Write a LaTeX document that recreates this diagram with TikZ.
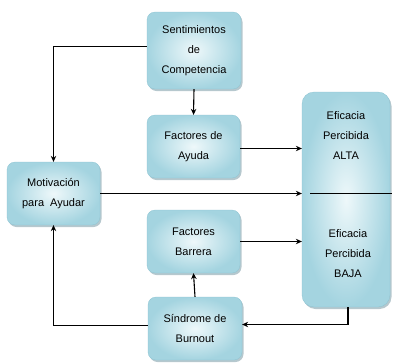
\documentclass[tikz,border=0pt]{standalone}
\usepackage{fontspec}
\setmainfont{Liberation Sans}
\usetikzlibrary{arrows.meta,shadows}
\definecolor{boxlight}{HTML}{EEF8FA}
\definecolor{boxdark}{HTML}{A4D4E0}
\definecolor{boxedge}{HTML}{8CC3D1}
\definecolor{shadowc}{HTML}{7A9AA6}
\tikzset{
  box/.style={draw=boxedge, line width=0.3pt, rounded corners=8pt,
    inner color=boxlight, outer color=boxdark, align=center,
    font=\fontsize{11}{20}\selectfont,
    drop shadow={shadow xshift=1.5pt, shadow yshift=-2pt, fill=shadowc, opacity=0.55}},
  label/.style={font=\fontsize{11}{20}\selectfont, align=center},
  link/.style={line width=1.1pt, draw=black},
  arr/.style={link, -{Stealth[length=6pt,width=5.5pt]}}
}
\begin{document}
\begin{tikzpicture}[x=1pt,y=-1pt]
\useasboundingbox (0,0) rectangle (394,362);
% boxes
\node[box, minimum width=94, minimum height=77] (sent) at (194,50.5) {Sentimientos\\de\\Competencia};
\node[box, minimum width=93, minimum height=63] (ayuda) at (193.5,146.5) {Factores de\\Ayuda};
\node[box, minimum width=93, minimum height=63] (motiv) at (53.5,193.5) {Motivación\\para\ \ Ayudar};
\node[box, minimum width=93, minimum height=63] (barr) at (193.5,241.5) {Factores\\Barrera};
\node[box, minimum width=94, minimum height=63] (sind) at (195,328.5) {Síndrome de\\Burnout};
\node[box, minimum width=88, minimum height=215, rounded corners=12pt] (efic) at (346,199.5) {};
\node[label] (alta) at (346,136) {Eficacia\\Percibida\\ALTA};
\node[label] (baja) at (348,254) {Eficacia\\Percibida\\BAJA};
% divider inside the efficacy box
\coordinate (divL) at (310,193);
\coordinate (divR) at (392,193);
\draw[line width=0.9pt] (divL) -- (divR);
% connectors
\draw[arr] ([yshift=4]sent.west) -| (motiv.north);
\draw[arr] (sent.south) -- (ayuda.north);
\draw[arr] ([yshift=-2]ayuda.east) -- ([yshift=-2]ayuda.east -| efic.west);
\draw[arr] (motiv.east) -- (motiv.east -| efic.west);
\draw[arr] (barr.east) -- (barr.east -| efic.west);
\draw[arr] (sind.north) -- (barr.south);
\draw[arr] ([yshift=3]sind.west) -| (motiv.south);
\draw[arr] ([xshift=2]efic.south) |- ([yshift=4]sind.east);
\end{tikzpicture}
\end{document}
